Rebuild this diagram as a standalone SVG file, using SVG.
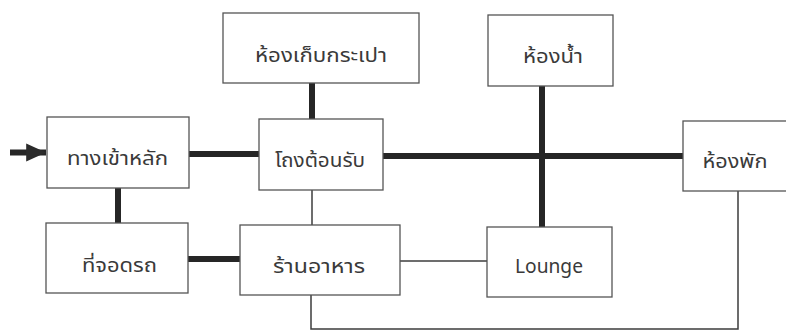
<svg xmlns="http://www.w3.org/2000/svg" width="786" height="331" viewBox="0 0 786 331">
<defs>
<style>
.box{fill:#ffffff;stroke:#555555;stroke-width:1.3}
.lbl{font-family:"Noto Sans","Noto Sans Thai","DejaVu Sans","Liberation Sans",sans-serif;font-size:19px;fill:#3a3a3a;text-anchor:middle}
.thick{stroke:#262626;stroke-width:6;fill:none}
.thin{stroke:#3c3c3c;stroke-width:1.5;fill:none}
</style>
<marker id="arr" markerWidth="4" markerHeight="4" refX="3.3" refY="2" orient="auto" markerUnits="strokeWidth">
<path d="M0,0.5 L3.3,2 L0,3.5 Z" fill="#2b2b2b"/>
</marker>
</defs>
<rect width="786" height="331" fill="#ffffff"/>
<g id="connectors">
<line class="thick" x1="10" y1="152.5" x2="46" y2="152.5" marker-end="url(#arr)"/>
<line class="thick" x1="189" y1="154" x2="259" y2="154"/>
<line class="thick" x1="312" y1="83" x2="312" y2="119"/>
<line class="thick" x1="383" y1="156" x2="683" y2="156"/>
<line class="thick" x1="542" y1="86" x2="542" y2="227"/>
<line class="thick" x1="118" y1="188" x2="118" y2="223"/>
<line class="thick" x1="188" y1="259" x2="240" y2="259"/>
<line class="thin" x1="312" y1="190" x2="312" y2="225"/>
<line class="thin" x1="400" y1="261" x2="487" y2="261"/>
<polyline class="thin" points="311,295 311,329 738,329 738,191"/>
</g>
<g id="n-luggage">
<rect class="box" x="223" y="13" width="196" height="70"/>
<text class="lbl" x="321" y="62" textLength="132" lengthAdjust="spacingAndGlyphs">ห้องเก็บกระเปา</text>
</g>
<g id="n-toilet">
<rect class="box" x="488" y="15" width="125" height="71"/>
<text class="lbl" x="553" y="63" textLength="60" lengthAdjust="spacingAndGlyphs">ห้องน้ำ</text>
</g>
<g id="n-entrance">
<rect class="box" x="47" y="117" width="142" height="71"/>
<text class="lbl" x="117.5" y="165" textLength="101" lengthAdjust="spacingAndGlyphs">ทางเข้าหลัก</text>
</g>
<g id="n-lobby">
<rect class="box" x="259" y="119" width="124" height="71"/>
<text class="lbl" x="320" y="167" textLength="90" lengthAdjust="spacingAndGlyphs">โถงต้อนรับ</text>
</g>
<g id="n-room">
<rect class="box" x="683" y="121" width="110" height="70"/>
<text class="lbl" x="735" y="168" textLength="65" lengthAdjust="spacingAndGlyphs">ห้องพัก</text>
</g>
<g id="n-parking">
<rect class="box" x="46" y="223" width="142" height="70"/>
<text class="lbl" x="119.5" y="272" textLength="75" lengthAdjust="spacingAndGlyphs">ที่จอดรถ</text>
</g>
<g id="n-restaurant">
<rect class="box" x="240" y="225" width="160" height="70"/>
<text class="lbl" x="319" y="273" textLength="92" lengthAdjust="spacingAndGlyphs">ร้านอาหาร</text>
</g>
<g id="n-lounge">
<rect class="box" x="487" y="227" width="125" height="70"/>
<text class="lbl" x="549" y="273" textLength="68" lengthAdjust="spacingAndGlyphs">Lounge</text>
</g>
</svg>
